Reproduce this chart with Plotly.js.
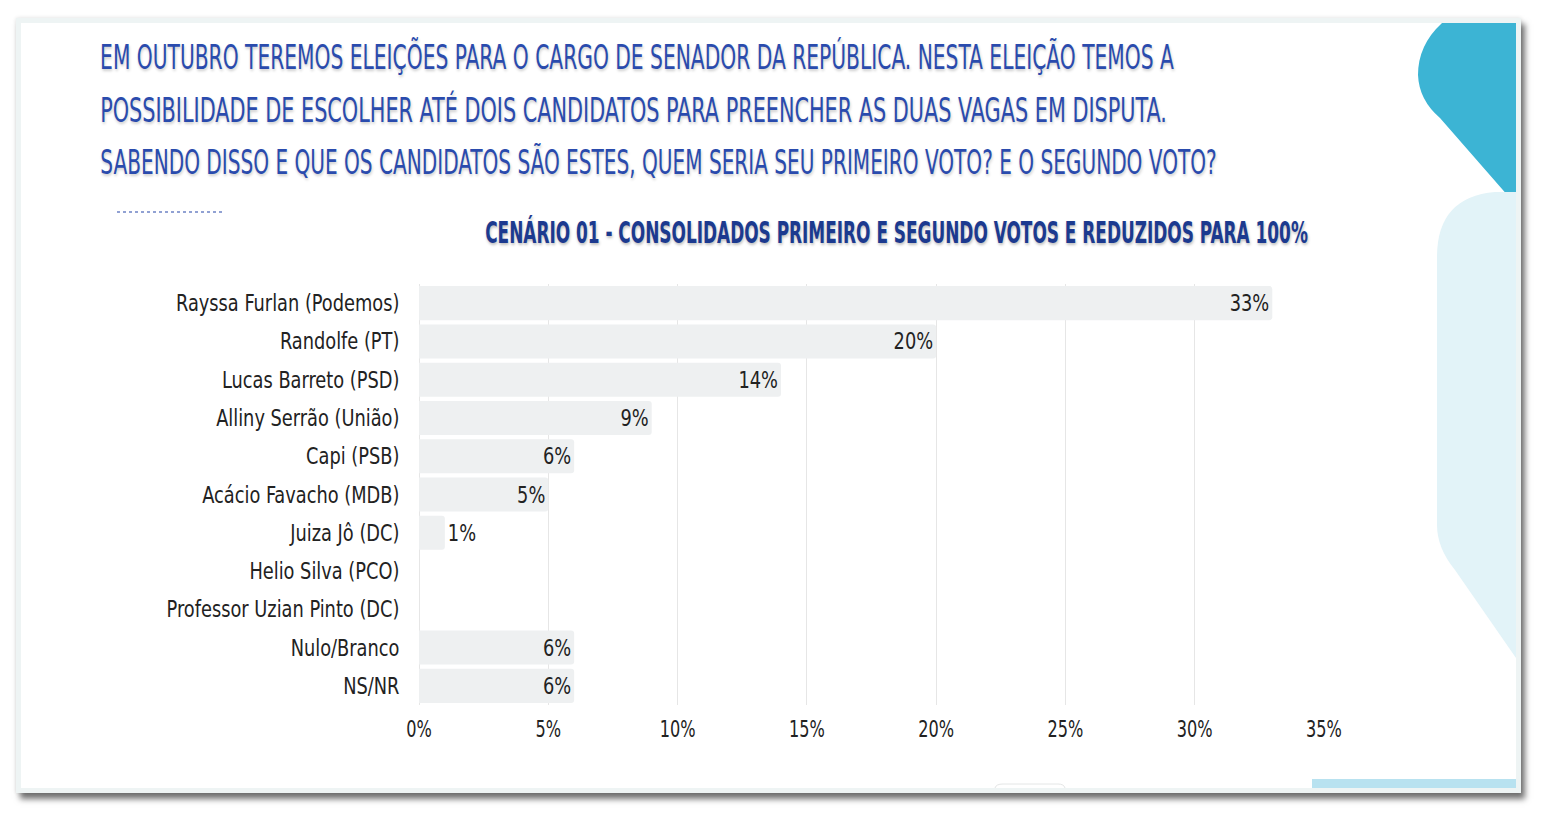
<!DOCTYPE html>
<html><head><meta charset="utf-8">
<script src="https://cdn.plot.ly/plotly-3.0.1.min.js"></script>
<style>
html,body{margin:0;padding:0;background:#fff;width:1542px;height:820px;overflow:hidden}
#frame{position:absolute;left:16px;top:18px;width:1495px;height:765px;border:5px solid #eef4f4;background:#fff;box-shadow:4px 6px 6px rgba(0,0,0,0.55),0 0 4px rgba(0,0,0,0.12)}
#chart{position:absolute;left:0;top:0;width:1542px;height:820px}
</style></head><body>
<div id="frame"></div><div id="chart"></div>
<script>
const categories = ["Rayssa Furlan (Podemos)","Randolfe (PT)","Lucas Barreto (PSD)","Alliny Serrão (União)","Capi (PSB)","Acácio Favacho (MDB)","Juiza Jô (DC)","Helio Silva (PCO)","Professor Uzian Pinto (DC)","Nulo/Branco","NS/NR"];
const values = [33,20,14,9,6,5,1,0,0,6,6];
const titleLines = ["EM OUTUBRO TEREMOS ELEIÇÕES PARA O CARGO DE SENADOR DA REPÚBLICA. NESTA ELEIÇÃO TEMOS A","POSSIBILIDADE DE ESCOLHER ATÉ DOIS CANDIDATOS PARA PREENCHER AS DUAS VAGAS EM DISPUTA.","SABENDO DISSO E QUE OS CANDIDATOS SÃO ESTES, QUEM SERIA SEU PRIMEIRO VOTO? E O SEGUNDO VOTO?"];
const subtitle = "CENÁRIO 01 - CONSOLIDADOS PRIMEIRO E SEGUNDO VOTOS E REDUZIDOS PARA 100%";
const xTickValues = [0,5,10,15,20,25,30,35];
const xTickLabels = ["0%","5%","10%","15%","20%","25%","30%","35%"];

const FONT = '"DejaVu Sans Condensed","DejaVu Sans","Liberation Sans Narrow",sans-serif';
// plot area in pixels
const L = 419, R = 1324, T = 284, B = 705;
const W = R - L, H = B - T;
const px = x => (x - L) / W;
const py = y => (B - y) / H;
// layout of the heading lines (pixel positions and widths)
const titleY = [57, 110, 162];
const titleWidth = [1074, 1067, 1117];
const subtitleWidth = 823;
const SQUEEZE_Y = 0.86, SQUEEZE_X = 0.78, SQUEEZE_BAR = 0.86;

const texts = values.map(v => v > 0 ? v + '%' : '');
const positions = values.map(v => v >= 3 ? 'inside' : 'outside');

const trace = {
  type: 'bar', orientation: 'h',
  y: categories, x: values,
  text: texts, textposition: positions,
  insidetextanchor: 'end', constraintext: 'none', cliponaxis: false,
  textfont: {family: FONT, size: 23, color: '#222'},
  marker: {color: '#eef0f1', cornerradius: 3},
  hoverinfo: 'none'
};

const annotations = titleLines.map((t, i) => ({
  xref: 'paper', yref: 'paper', x: px(98), y: py(titleY[i]),
  xanchor: 'left', yanchor: 'middle', showarrow: false, text: t,
  font: {family: FONT, size: 34, color: '#2a4bad', shadow: '1px 2px 3px rgba(0,0,0,0.2)'}
}));
annotations.push({
  xref: 'paper', yref: 'paper', x: px(1310), y: py(232),
  xanchor: 'right', yanchor: 'middle', showarrow: false, text: '<b>' + subtitle + '</b>',
  font: {family: FONT, size: 30, color: '#1c3a8f', shadow: '1px 2px 3px rgba(0,0,0,0.25)'}
});

const shapes = [
  {type:'path', xref:'paper', yref:'paper', layer:'below', line:{width:0}, fillcolor:'#3cb4d4',
   path: `M${px(1516)},${py(23)} L${px(1442)},${py(23)} Q${px(1418)},${py(45)} ${px(1418)},${py(75)} Q${px(1419)},${py(100)} ${px(1440)},${py(118)} L${px(1516)},${py(205)} Z`},
  {type:'path', xref:'paper', yref:'paper', layer:'below', line:{width:0}, fillcolor:'#e2f3f8',
   path: `M${px(1516)},${py(192)} L${px(1495)},${py(192)} Q${px(1437)},${py(197)} ${px(1437)},${py(257)} L${px(1437)},${py(525)} Q${px(1437)},${py(548)} ${px(1455)},${py(570)} L${px(1516)},${py(658)} Z`},
  {type:'rect', xref:'paper', yref:'paper', layer:'below', line:{width:0}, fillcolor:'#b8e2f0',
   x0:px(1312), x1:px(1516), y0:py(779), y1:py(788)},
  {type:'path', xref:'paper', yref:'paper', layer:'below', line:{width:1, color:'#e4e6e6'}, fillcolor:'rgba(0,0,0,0)',
   path: `M${px(995)},${py(788)} Q${px(996)},${py(784)} ${px(1003)},${py(784)} L${px(1058)},${py(784)} Q${px(1064)},${py(784)} ${px(1065)},${py(788)}`},
  {type:'line', xref:'paper', yref:'paper', line:{width:1.2, color:'#2445a8', dash:'dot'},
   x0:px(117), x1:px(225), y0:py(212), y1:py(212)}
];

const layout = {
  width: 1542, height: 820,
  margin: {l: L, r: 1542 - R, t: T, b: 820 - B, pad: 0},
  paper_bgcolor: 'rgba(0,0,0,0)', plot_bgcolor: 'rgba(0,0,0,0)',
  showlegend: false, bargap: 0.11,
  font: {family: FONT, color: '#222'},
  xaxis: {range: [0, 35], tickvals: xTickValues, ticktext: xTickLabels, showgrid: true, gridcolor: '#e6e6e6', gridwidth: 1,
          zeroline: true, zerolinecolor: '#e6e6e6', zerolinewidth: 1, showline: false, ticks: 'outside', ticklen: 3, tickcolor: 'rgba(0,0,0,0)',
          tickfont: {family: FONT, size: 23, color: '#222'}, fixedrange: true},
  yaxis: {type: 'category', autorange: 'reversed', showgrid: false, zeroline: false, showline: false, ticks: 'outside', ticklen: 14, tickcolor: 'rgba(0,0,0,0)',
          tickfont: {family: FONT, size: 23, color: '#222'}, fixedrange: true},
  annotations, shapes
};

// horizontally condense a text element around an anchor (0 = left, 0.5 = centre, 1 = right)
function squeeze(el, s, where) {
  const bb = el.getBBox();
  if (!bb.width) return;
  const a = bb.x + bb.width * where;
  const prev = el.getAttribute('transform') || '';
  el.setAttribute('transform', `${prev} translate(${a},0) scale(${s},1) translate(${-a},0)`);
}

Plotly.newPlot('chart', [trace], layout, {staticPlot: true, displayModeBar: false}).then(gd => {
  const ann = gd.querySelectorAll('.annotation');
  ann.forEach((g, i) => {
    const t = g.querySelector('text');
    if (!t) return;
    const bb = t.getBBox();
    const target = i < titleLines.length ? titleWidth[i] : subtitleWidth;
    squeeze(t, target / bb.width, i < titleLines.length ? 0 : 1);
  });
  gd.querySelectorAll('.ytick text').forEach(t => squeeze(t, SQUEEZE_Y, 1));
  gd.querySelectorAll('.xtick text').forEach(t => squeeze(t, SQUEEZE_X, 0.5));
  gd.querySelectorAll('.trace.bars .point').forEach((p, i) => {
    const t = p.querySelector('text');
    if (t) squeeze(t, SQUEEZE_BAR, positions[i] === 'inside' ? 1 : 0);
  });
});
</script>
</body></html>
